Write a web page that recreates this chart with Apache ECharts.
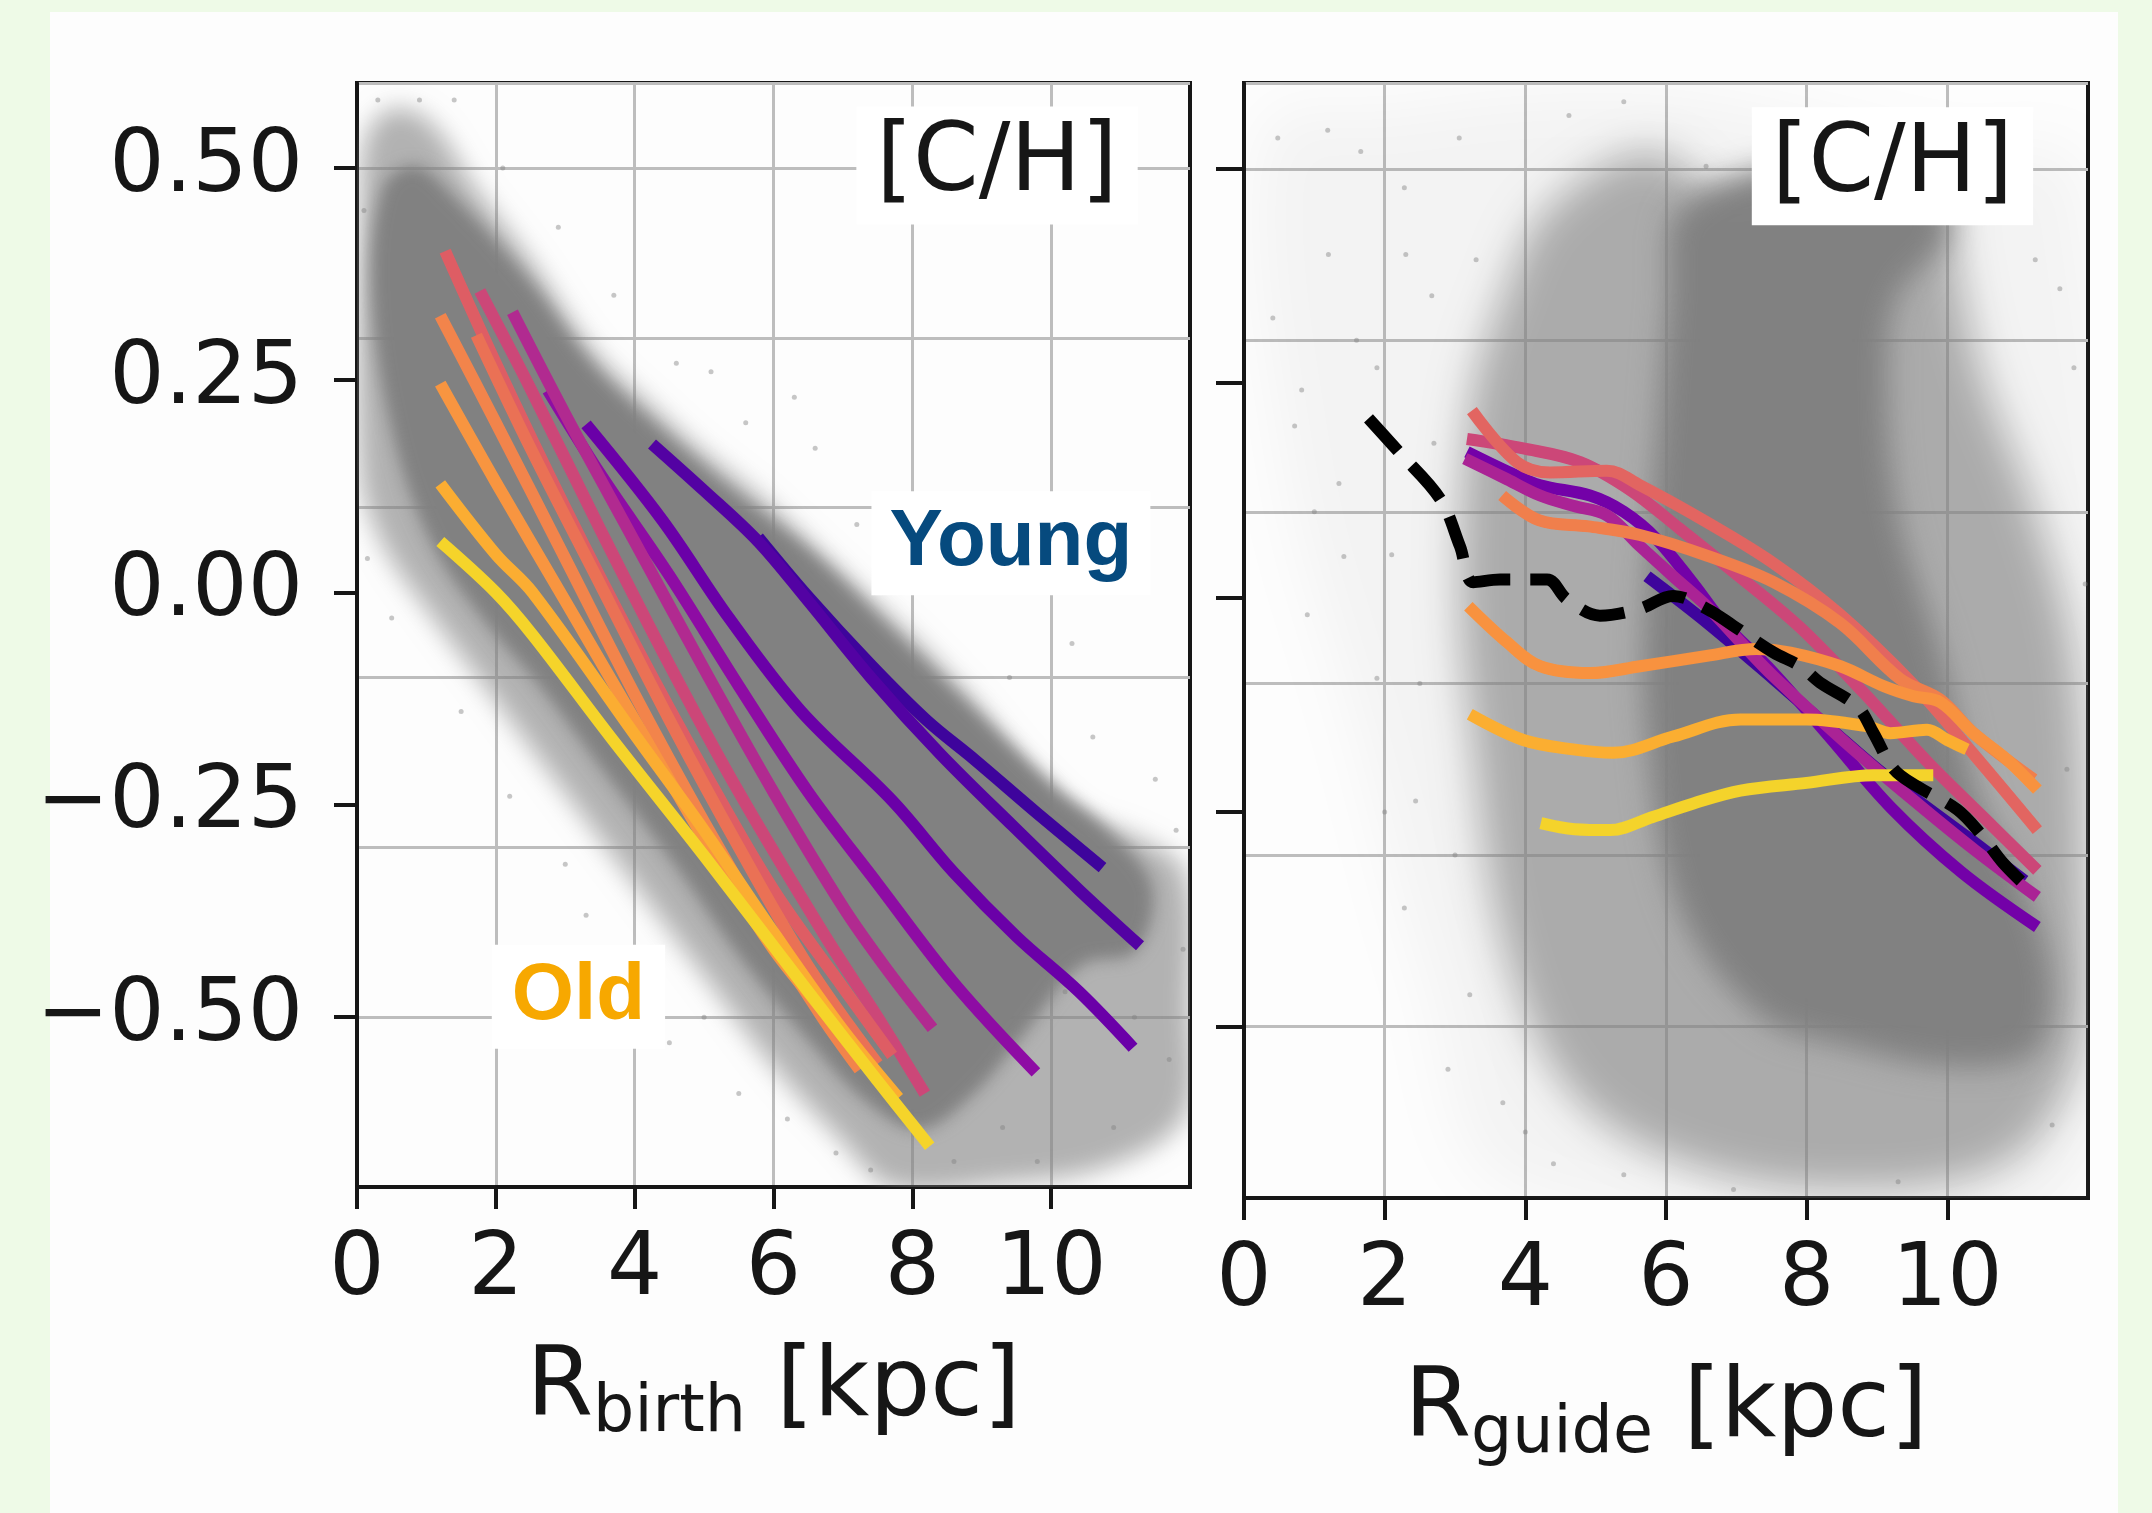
<!DOCTYPE html>
<html>
<head>
<meta charset="utf-8">
<script src="https://cdn.jsdelivr.net/npm/echarts@6/dist/echarts.min.js"></script>
<style>
  html, body { margin: 0; padding: 0; width: 2152px; height: 1513px; background: #eefae7; overflow: hidden; }
  #paper { position: absolute; left: 50px; top: 12px; width: 2068px; height: 1501px; background: #fdfdfd; }
  #chart { position: absolute; left: 0; top: 0; width: 2152px; height: 1513px; }
</style>
</head>
<body>
<div id="paper"></div>
<div id="chart"></div>
<script>
// ---------------- axis ticks ----------------
const xTickValues = [0, 2, 4, 6, 8, 10];
const yTickValues = [-0.5, -0.25, 0, 0.25, 0.5];

// ---------------- left panel: R_birth ----------------
const birthCloudOuter = [[0.13,0.536],[0.52,0.57],[1.07,0.553],[1.7,0.477],[2.48,0.393],[3.41,0.284],[4.27,0.217],[4.97,0.166],[5.75,0.116],[6.54,0.057],[7.32,-0.002],[8.1,-0.061],[8.88,-0.128],[9.66,-0.204],[10.44,-0.263],[11.22,-0.288],[11.92,-0.33],[12.0,-0.49],[11.92,-0.616],[10.83,-0.675],[9.27,-0.696],[7.71,-0.7],[6.93,-0.641],[5.99,-0.557],[4.97,-0.448],[3.8,-0.322],[2.63,-0.196],[1.85,-0.111],[1.07,-0.027],[0.37,0.057],[0.05,0.141],[0.05,0.435]];
const birthCloudCore = [[0.37,0.477],[0.84,0.503],[1.46,0.461],[2.48,0.368],[3.41,0.267],[4.27,0.2],[5.36,0.124],[6.54,0.048],[7.71,-0.044],[8.88,-0.137],[10.05,-0.229],[10.83,-0.28],[11.46,-0.347],[11.22,-0.423],[10.44,-0.439],[9.66,-0.515],[8.88,-0.591],[8.1,-0.633],[7.32,-0.599],[6.54,-0.532],[5.52,-0.431],[4.58,-0.322],[3.41,-0.196],[2.63,-0.111],[1.85,-0.036],[1.07,0.057],[0.52,0.183],[0.21,0.351]];
const birthStrayPoints = [[0.1,0.45],[0.3,0.58],[0.9,0.58],[0.15,0.04],[0.5,-0.03],[1.5,-0.14],[2.2,-0.24],[3.0,-0.32],[4.0,-0.42],[5.0,-0.5],[6.2,-0.62],[7.4,-0.68],[8.6,-0.67],[9.8,-0.67],[10.9,-0.63],[11.7,-0.55],[11.8,-0.28],[11.5,-0.22],[10.6,-0.17],[9.4,-0.1],[8.3,0.0],[7.2,0.08],[6.3,0.23],[6.6,0.17],[5.6,0.2],[4.6,0.27],[3.7,0.35],[2.9,0.43],[2.1,0.5],[1.4,0.58],[4.5,-0.53],[5.5,-0.59],[10.2,-0.47],[11.2,-0.5],[9.1,0.04],[10.3,-0.06],[3.3,-0.38],[11.9,-0.42],[6.9,-0.66],[9.3,-0.63],[7.9,0.05],[5.1,0.26]];

// age-binned gradient lines, young -> old
const birthAge1  = [[5.78,0.065],[6.5,-0.005],[7.4,-0.085],[8.2,-0.15],[8.9,-0.197],[9.8,-0.26],[10.74,-0.324]];
const birthAge2  = [[4.25,0.175],[5.0,0.12],[5.78,0.06],[6.5,-0.01],[7.4,-0.1],[8.4,-0.19],[9.45,-0.275],[10.4,-0.35],[11.28,-0.416]];
const birthAge3  = [[3.3,0.198],[4.4,0.085],[5.36,-0.03],[6.4,-0.14],[7.71,-0.245],[8.6,-0.33],[9.5,-0.405],[10.4,-0.47],[11.18,-0.536]];
const birthAge4  = [[2.75,0.238],[3.5,0.14],[4.5,0.02],[5.5,-0.11],[6.5,-0.235],[7.5,-0.343],[8.6,-0.46],[9.78,-0.565]];
const birthAge5  = [[2.24,0.33],[3.0,0.21],[4.0,0.06],[5.0,-0.09],[6.0,-0.235],[7.0,-0.37],[7.6,-0.44],[8.29,-0.513]];
const birthAge6  = [[1.77,0.355],[2.5,0.24],[3.5,0.075],[4.5,-0.085],[5.5,-0.235],[6.71,-0.4],[7.5,-0.5],[8.18,-0.59]];
const birthAge7  = [[1.27,0.402],[2.0,0.27],[3.0,0.1],[4.0,-0.06],[5.0,-0.21],[6.0,-0.35],[7.0,-0.465],[7.71,-0.545]];
const birthAge8  = [[1.72,0.303],[2.5,0.17],[3.5,0.01],[4.5,-0.15],[5.5,-0.3],[6.5,-0.44],[7.5,-0.555]];
const birthAge9  = [[1.2,0.326],[2.0,0.2],[3.0,0.04],[4.0,-0.12],[5.0,-0.27],[6.0,-0.41],[6.7,-0.5],[7.24,-0.562]];
const birthAge10 = [[1.2,0.246],[2.0,0.13],[3.0,-0.01],[4.0,-0.15],[5.0,-0.29],[6.0,-0.42],[7.0,-0.52],[7.6,-0.58]];
const birthAge11 = [[1.2,0.128],[2.0,0.045],[2.53,0.0],[4.06,-0.174],[5.0,-0.28],[6.0,-0.4],[7.0,-0.515],[7.8,-0.595]];
const birthAge12 = [[1.2,0.06],[2.0,0.0],[2.53,-0.05],[3.67,-0.172],[5.0,-0.31],[6.5,-0.47],[7.5,-0.575],[8.25,-0.652]];

// ---------------- right panel: R_guide ----------------
const guideCloudSparse = [[0.3,0.55],[2.0,0.57],[4.0,0.59],[6.0,0.59],[8.0,0.56],[10.0,0.52],[11.9,0.5],[11.95,-0.69],[3.8,-0.69],[2.6,-0.45],[1.6,-0.15],[0.6,0.15]];
const guideCloudMid = [[3.69,0.352],[4.31,0.452],[5.79,0.52],[6.96,0.452],[7.27,0.47],[10.0,0.478],[10.08,0.419],[10.47,0.267],[11.25,0.1],[11.8,-0.069],[11.96,-0.32],[11.88,-0.53],[10.86,-0.657],[8.52,-0.69],[6.18,-0.657],[4.62,-0.573],[3.69,-0.405],[3.22,-0.152],[3.06,0.016],[3.22,0.226]];
const guideCloudCore = [[6.18,0.452],[7.74,0.503],[9.69,0.478],[10.0,0.423],[9.3,0.352],[9.15,0.267],[9.3,0.1],[9.93,-0.069],[10.47,-0.237],[11.02,-0.32],[11.49,-0.447],[11.25,-0.53],[10.08,-0.547],[8.52,-0.522],[7.35,-0.489],[6.18,-0.362],[5.71,-0.152],[5.71,0.016],[5.87,0.184],[6.03,0.352]];
const guideStrayPoints = [[0.48,0.536],[1.19,0.545],[1.66,0.52],[0.82,0.242],[1.42,0.048],[0.72,0.2],[1.89,-0.094],[2.44,-0.237],[3.21,-0.463],[3.68,-0.589],[4.0,-0.623],[2.28,0.478],[2.67,0.352],[3.06,0.536],[4.62,0.562],[5.4,0.578],[6.57,0.503],[10.47,0.47],[11.25,0.394],[11.8,0.268],[11.96,0.016],[11.49,-0.615],[9.3,-0.681],[6.96,-0.69],[5.4,-0.673],[1.89,0.268],[3.3,0.394],[1.35,0.133],[2.28,-0.362],[0.41,0.326],[2.1,0.05],[2.5,-0.1],[1.2,0.4],[4.4,-0.66],[11.7,-0.2],[11.6,0.36],[0.9,-0.02],[2.9,-0.55],[1.6,0.3],[2.0,-0.25],[2.7,0.18],[1.0,0.1],[3.0,-0.3],[2.3,0.4]];

const guideAge1 = [[5.73,0.025],[6.58,-0.029],[7.53,-0.095],[8.3,-0.15],[9.14,-0.209],[10.28,-0.279],[11.1,-0.33]];
const guideAge2 = [[3.17,0.17],[3.8,0.145],[4.21,0.131],[4.92,0.119],[5.4,0.1],[5.87,0.068],[6.4,0.015],[6.81,-0.029],[7.52,-0.087],[8.3,-0.16],[9.2,-0.245],[10.2,-0.32],[11.28,-0.384]];
const guideAge3 = [[3.14,0.162],[3.74,0.138],[4.21,0.119],[4.68,0.107],[5.16,0.096],[5.63,0.06],[6.1,0.025],[6.58,-0.01],[7.06,-0.052],[7.53,-0.092],[8.5,-0.165],[9.5,-0.235],[10.4,-0.295],[11.28,-0.349]];
const guideAge4 = [[3.17,0.185],[3.97,0.174],[4.78,0.158],[5.5,0.125],[6.2,0.08],[6.96,0.03],[7.91,-0.035],[8.8,-0.11],[9.7,-0.19],[10.5,-0.255],[11.28,-0.318]];
const guideAge5 = [[3.24,0.218],[3.88,0.158],[4.35,0.146],[5.16,0.148],[5.63,0.131],[6.58,0.088],[7.53,0.04],[8.48,-0.02],[9.5,-0.1],[10.4,-0.185],[11.28,-0.271]];
const guideAge6 = [[3.67,0.119],[4.2,0.09],[4.9,0.083],[5.63,0.073],[6.58,0.049],[7.53,0.018],[8.48,-0.03],[9.33,-0.095],[9.9,-0.119],[10.4,-0.16],[11.23,-0.212]];
const guideAge7 = [[3.19,-0.01],[3.74,-0.052],[4.21,-0.08],[4.92,-0.088],[5.63,-0.08],[6.58,-0.068],[7.29,-0.06],[7.77,-0.064],[8.48,-0.08],[9.09,-0.103],[9.52,-0.115],[9.9,-0.122],[10.37,-0.158],[10.85,-0.189],[11.28,-0.224]];
const guideAge8 = [[3.21,-0.136],[3.97,-0.166],[4.68,-0.177],[5.25,-0.181],[6.1,-0.162],[7.06,-0.142],[8.0,-0.142],[8.86,-0.15],[9.19,-0.158],[9.71,-0.154],[10.0,-0.166],[10.28,-0.177]];
const guideAge9 = [[4.22,-0.263],[4.7,-0.27],[5.21,-0.271],[5.8,-0.256],[6.39,-0.24],[7.06,-0.225],[8.0,-0.216],[8.95,-0.207],[9.8,-0.207]];
const guideAllStars = [[1.77,0.209],[2.2,0.17],[2.79,0.115],[3.07,0.06],[3.26,0.018],[3.64,0.021],[4.31,0.021],[4.59,-0.002],[5.06,-0.021],[5.63,-0.013],[6.1,0.002],[6.58,-0.013],[6.96,-0.033],[7.53,-0.064],[7.91,-0.08],[8.19,-0.099],[8.72,-0.127],[8.95,-0.158],[9.24,-0.2],[9.57,-0.22],[10.14,-0.247],[10.47,-0.275],[10.8,-0.31],[11.18,-0.341]];

// ---------------- annotations ----------------
const panelLabel = '[C/H]';
const panelLabelPos = [9.22, 0.503];
const youngLabelPos = [9.42, 0.058];
const oldLabelPos = [3.19, -0.476];

// ---------------- colours / styles ----------------
const birthColors = ['#3e049c','#5302a3','#6a00a8','#8e0ca4','#b12a90','#cc4778','#de5d64','#ea7155','#f2844b','#f89540','#fbad32','#f5d42a'];
const guideColors = ['#3e049c','#7301a8','#aa2395','#cc4778','#e26561','#f07f4c','#f8923f','#fbae31','#f4d32b'];
const FONT = 'DejaVu Sans';
const INK = '#161616';
const LINE_W = 12;

const birthLines = [birthAge1,birthAge2,birthAge3,birthAge4,birthAge5,birthAge6,birthAge7,birthAge8,birthAge9,birthAge10,birthAge11,birthAge12];
const guideLines = [guideAge1,guideAge2,guideAge3,guideAge4,guideAge5,guideAge6,guideAge7,guideAge8,guideAge9];

// soft-edged cloud layer: only the blurred shadow of the polygon is visible
const SHIFT = 5000;
function softCloud(pts, xi, yi, color, blur, z) {
  return {
    type: 'custom', xAxisIndex: xi, yAxisIndex: yi, data: pts, z: z, silent: true, clip: true,
    renderItem: function (params, api) {
      if (params.dataIndex !== 0) return null;
      return {
        type: 'polygon', x: -SHIFT,
        shape: { points: pts.map(function (p) { return api.coord(p); }), smooth: 0.35 },
        style: { fill: '#000', shadowBlur: blur, shadowColor: color, shadowOffsetX: SHIFT }
      };
    }
  };
}
function curve(data, color, xi, yi, z, dashed) {
  return {
    type: 'line', data: data, xAxisIndex: xi, yAxisIndex: yi, z: z, silent: true,
    showSymbol: false, symbol: 'none', smooth: 0.35, clip: true,
    lineStyle: { color: color, width: LINE_W, cap: 'butt', join: 'round', type: dashed ? [44, 20] : 'solid' }
  };
}
function strays(data, xi, yi) {
  return { type: 'scatter', data: data, xAxisIndex: xi, yAxisIndex: yi, z: 2, silent: true,
    symbolSize: 5, itemStyle: { color: 'rgba(128,128,128,0.55)' } };
}
function textTag(pos, text, xi, yi, style) {
  return { type: 'scatter', data: [pos], xAxisIndex: xi, yAxisIndex: yi, z: 10, silent: true,
    symbolSize: 1, itemStyle: { color: 'rgba(0,0,0,0)', opacity: 1 },
    label: Object.assign({ show: true, position: 'inside', formatter: text, backgroundColor: '#ffffff', opacity: 1 }, style) };
}
const chLabelStyle = { fontSize: 94, fontFamily: FONT, color: INK, padding: [12, 20] };

function xAxisDef(gi, sub) {
  return {
    type: 'value', gridIndex: gi, min: 0, max: 12, interval: 2,
    axisLine: { show: true, onZero: false, lineStyle: { color: INK, width: 4 } },
    axisTick: { show: true, length: 22, lineStyle: { color: INK, width: 4 }, customValues: xTickValues },
    axisLabel: { show: true, margin: 41, fontSize: 87, fontFamily: FONT, color: INK, customValues: xTickValues },
    splitLine: { show: true, lineStyle: { color: '#bdbdbd', width: 3 } },
    name: '{r|R}{s|' + sub + '}{r| [kpc]}',
    nameLocation: 'middle', nameGap: gi === 0 ? 155 : 165,
    nameTextStyle: { rich: {
      r: { fontSize: 96, fontFamily: FONT, color: INK, verticalAlign: 'top' },
      s: { fontSize: 65, fontFamily: FONT, color: INK, verticalAlign: 'top', padding: [40, 0, 0, 0] }
    } }
  };
}
function yAxisMain(gi, labels) {
  return {
    type: 'value', gridIndex: gi, min: -0.7, max: 0.6, position: 'left',
    axisLine: { show: true, onZero: false, lineStyle: { color: INK, width: 4 } },
    axisTick: { show: true, length: labels ? 23 : 28, lineStyle: { color: INK, width: 4 }, customValues: yTickValues },
    axisLabel: { show: labels, margin: 54, fontSize: 87, fontFamily: FONT, color: INK, customValues: yTickValues,
      formatter: function (v) { return (v < 0 ? '\u2212' : '') + Math.abs(v).toFixed(2); } },
    splitLine: { show: false }
  };
}
function yAxisGrid(gi) {
  return {
    type: 'value', gridIndex: gi, min: -0.7, max: 0.6, interval: 0.2, position: 'left',
    axisLine: { show: false, onZero: false }, axisTick: { show: false }, axisLabel: { show: false },
    splitLine: { show: true, lineStyle: { color: '#bdbdbd', width: 3 } }
  };
}

const series = [];
// left panel
series.push(softCloud(birthCloudOuter, 0, 0, 'rgba(128,128,128,0.6)', 24, 1));
series.push(softCloud(birthCloudCore, 0, 0, 'rgba(128,128,128,0.97)', 16, 1));
series.push(strays(birthStrayPoints, 0, 0));
birthLines.forEach(function (d, i) { series.push(curve(d, birthColors[i], 0, 0, 3 + i * 0.01, false)); });
// right panel
series.push(softCloud(guideCloudSparse, 1, 2, 'rgba(128,128,128,0.08)', 60, 1));
series.push(softCloud(guideCloudMid, 1, 2, 'rgba(128,128,128,0.62)', 40, 1));
series.push(softCloud(guideCloudCore, 1, 2, 'rgba(128,128,128,0.97)', 30, 1));
series.push(strays(guideStrayPoints, 1, 2));
guideLines.forEach(function (d, i) { series.push(curve(d, guideColors[i], 1, 2, 3 + i * 0.01, false)); });
series.push(curve(guideAllStars, '#000000', 1, 2, 4, true));
// annotations
series.push(textTag(panelLabelPos, panelLabel, 0, 0, chLabelStyle));
series.push(textTag(panelLabelPos, panelLabel, 1, 2, chLabelStyle));
series.push(textTag(youngLabelPos, 'Young', 0, 0, { fontSize: 80, fontWeight: 'bold', fontFamily: 'Liberation Sans', color: '#064a7e', padding: [12, 18] }));
series.push(textTag(oldLabelPos, 'Old', 0, 0, { fontSize: 80, fontWeight: 'bold', fontFamily: 'Liberation Sans', color: '#f7a800', padding: [12, 20] }));

const chart = echarts.init(document.getElementById('chart'), null, { renderer: 'canvas' });
chart.setOption({
  animation: false,
  backgroundColor: 'transparent',
  grid: [
    { left: 357, top: 83, width: 833, height: 1104, show: true, borderColor: INK, borderWidth: 4, backgroundColor: 'transparent' },
    { left: 1244, top: 83, width: 844, height: 1115, show: true, borderColor: INK, borderWidth: 4, backgroundColor: 'transparent' }
  ],
  xAxis: [xAxisDef(0, 'birth'), xAxisDef(1, 'guide')],
  yAxis: [yAxisMain(0, true), yAxisGrid(0), yAxisMain(1, false), yAxisGrid(1)],
  series: series
});
</script>
</body>
</html>
